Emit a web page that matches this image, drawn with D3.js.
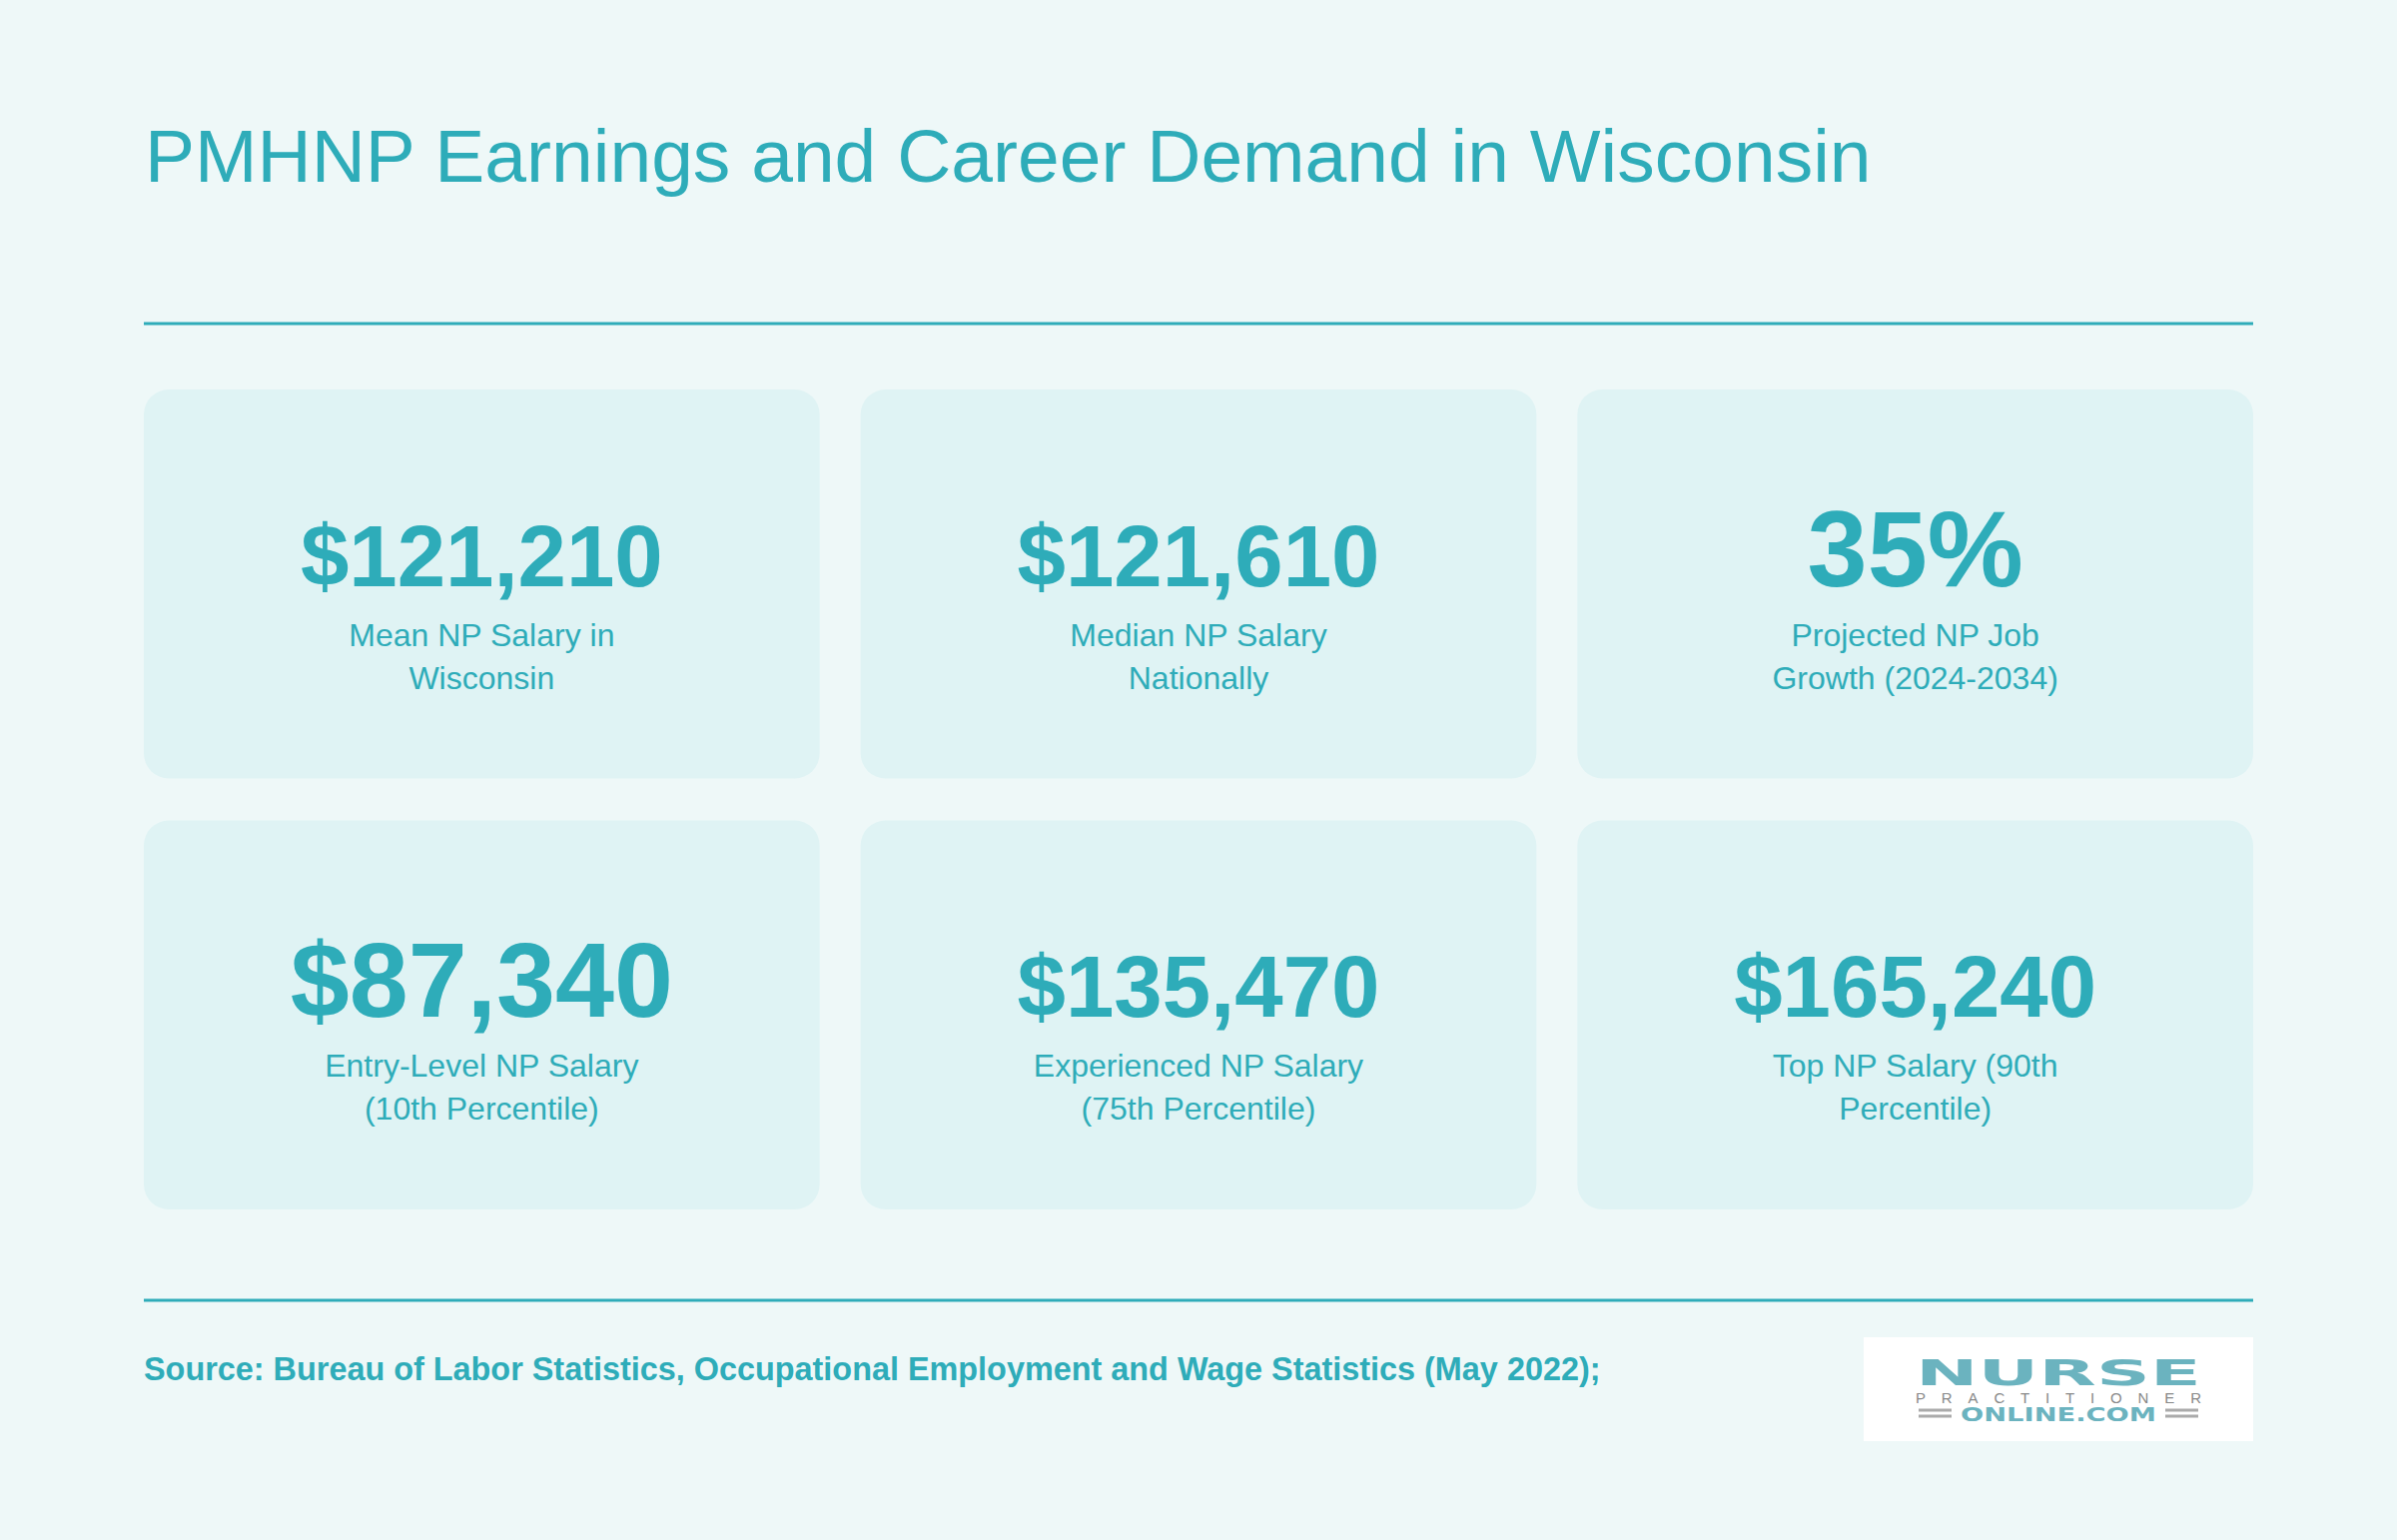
<!DOCTYPE html>
<html><head><meta charset="utf-8">
<script src="https://cdn.jsdelivr.net/npm/d3@7"></script>
<style>body{margin:0;background:#eef8f8}svg{display:block}</style>
</head><body>
<script>
const values = ["$121,210", "$121,610", "35%", "$87,340", "$135,470", "$165,240"]
const labels = [
  ["Mean NP Salary in", "Wisconsin"],
  ["Median NP Salary", "Nationally"],
  ["Projected NP Job", "Growth (2024-2034)"],
  ["Entry-Level NP Salary", "(10th Percentile)"],
  ["Experienced NP Salary", "(75th Percentile)"],
  ["Top NP Salary (90th", "Percentile)"]
]
const valueSizes = [87, 87, 108, 106, 87, 87]

const W = 2400, H = 1542, teal = "#2eacb9"
const svg = d3.select("body").append("svg").attr("width", W).attr("height", H)
svg.append("rect").attr("width", W).attr("height", H).attr("fill", "#eef8f8")

const font = "'Liberation Sans', Arial, sans-serif"
svg.append("text").attr("x", 145).attr("y", 182).attr("fill", teal)
  .attr("font-family", font).attr("font-size", 75).text("PMHNP Earnings and Career Demand in Wisconsin")

svg.append("line").attr("x1", 144).attr("x2", 2256).attr("y1", 324).attr("y2", 324).attr("stroke", teal).attr("stroke-width", 3)
svg.append("line").attr("x1", 144).attr("x2", 2256).attr("y1", 1302).attr("y2", 1302).attr("stroke", teal).attr("stroke-width", 3)

const x = d3.scaleBand().domain([0, 1, 2]).range([144, 2256]).paddingInner(41 / 717)
const y = d3.scaleBand().domain([0, 1]).range([390, 1211]).paddingInner(42 / 432)

const cards = svg.selectAll("g.card").data(values).join("g")
  .attr("transform", (d, i) => `translate(${x(i % 3)},${y(Math.floor(i / 3))})`)
cards.append("rect").attr("width", x.bandwidth()).attr("height", y.bandwidth())
  .attr("rx", 25).attr("fill", "#dff3f4")
cards.append("text").attr("x", x.bandwidth() / 2).attr("y", 197).attr("text-anchor", "middle")
  .attr("fill", teal).attr("font-family", font).attr("font-weight", "bold")
  .attr("font-size", (d, i) => valueSizes[i]).text(d => d)
cards.each(function (d, i) {
  d3.select(this).selectAll("text.lab").data(labels[i]).join("text").attr("class", "lab")
    .attr("x", x.bandwidth() / 2).attr("y", (l, j) => 257 + j * 43).attr("text-anchor", "middle")
    .attr("fill", teal).attr("font-family", font).attr("font-size", 32).text(l => l)
})

svg.append("text").attr("x", 144).attr("y", 1382).attr("fill", teal).attr("font-family", font)
  .attr("font-weight", "bold").attr("font-size", 32.4)
  .text("Source: Bureau of Labor Statistics, Occupational Employment and Wage Statistics (May 2022);")

// logo
const logo = svg.append("g").attr("transform", "translate(1866,1339)")
logo.append("rect").attr("width", 390).attr("height", 104).attr("fill", "#ffffff")
logo.append("text").attr("x", 195).attr("y", 48).attr("text-anchor", "middle").attr("fill", "#6bb3bf")
  .attr("font-family", "'DejaVu Sans', sans-serif").attr("font-weight", "bold").attr("font-size", 36)
  .attr("textLength", 286).attr("lengthAdjust", "spacingAndGlyphs").text("NURSE")
logo.append("text").attr("x", 195).attr("y", 66).attr("text-anchor", "middle").attr("fill", "#888")
  .attr("font-family", font).attr("font-size", 15).attr("textLength", 286).text("PRACTITIONER")
logo.append("text").attr("x", 195).attr("y", 84).attr("text-anchor", "middle").attr("fill", "#6bb3bf")
  .attr("font-family", "'DejaVu Sans', sans-serif").attr("font-weight", "bold").attr("font-size", 20)
  .attr("textLength", 196).attr("lengthAdjust", "spacingAndGlyphs").text("ONLINE.COM")
;[[55, 88], [302, 335]].forEach(([a, b]) => {
  [73, 79].forEach(yy => logo.append("line").attr("x1", a).attr("x2", b).attr("y1", yy).attr("y2", yy)
    .attr("stroke", "#aaa").attr("stroke-width", 3))
})
</script>
</body></html>
